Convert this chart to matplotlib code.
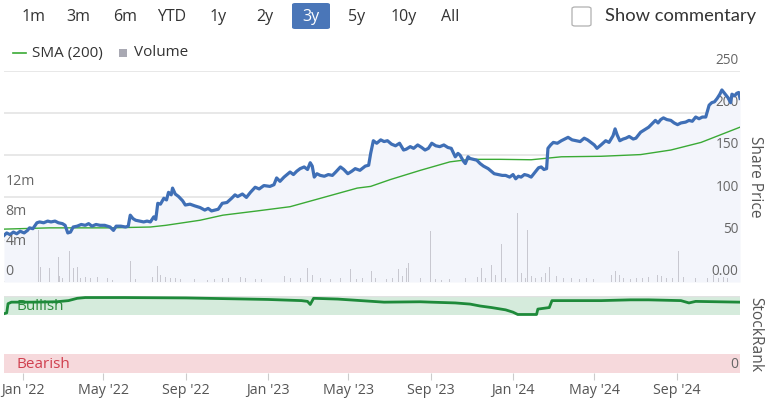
import matplotlib
matplotlib.use('Agg')
import matplotlib.pyplot as plt
from matplotlib.patches import FancyBboxPatch, Rectangle
from matplotlib.lines import Line2D
import pandas as pd

plt.rcParams['font.family'] = ['Open Sans', 'DejaVu Sans']

# --- Data ---
price_dates = [
    '2021-12-04', '2021-12-08', '2021-12-13', '2021-12-18', '2021-12-23', '2021-12-28',
    '2022-01-03', '2022-01-08', '2022-01-11', '2022-01-16', '2022-01-22', '2022-01-26',
    '2022-02-01', '2022-02-07', '2022-02-12', '2022-02-18', '2022-02-23', '2022-03-01',
    '2022-03-05', '2022-03-09', '2022-03-13', '2022-03-17', '2022-03-23', '2022-03-29',
    '2022-04-04', '2022-04-09', '2022-04-14', '2022-04-20', '2022-04-26', '2022-05-03',
    '2022-05-11', '2022-05-16', '2022-05-20', '2022-05-27', '2022-06-03', '2022-06-07',
    '2022-06-10', '2022-06-14', '2022-06-18', '2022-06-24', '2022-06-30', '2022-07-05',
    '2022-07-10', '2022-07-15', '2022-07-18', '2022-07-21', '2022-07-25', '2022-07-30',
    '2022-08-03', '2022-08-06', '2022-08-10', '2022-08-12', '2022-08-16', '2022-08-21',
    '2022-08-27', '2022-08-31', '2022-09-07', '2022-09-14', '2022-09-22', '2022-09-29',
    '2022-10-04', '2022-10-09', '2022-10-14', '2022-10-19', '2022-10-25', '2022-11-01',
    '2022-11-08', '2022-11-13', '2022-11-17', '2022-11-24', '2022-11-30', '2022-12-06',
    '2022-12-13', '2022-12-19', '2022-12-26', '2023-01-04', '2023-01-10', '2023-01-14',
    '2023-01-19', '2023-01-25', '2023-02-03', '2023-02-08', '2023-02-13', '2023-02-18',
    '2023-02-24', '2023-03-01', '2023-03-05', '2023-03-08', '2023-03-11', '2023-03-15',
    '2023-03-20', '2023-03-26', '2023-04-01', '2023-04-07', '2023-04-12', '2023-04-19',
    '2023-04-24', '2023-04-30', '2023-05-06', '2023-05-11', '2023-05-18', '2023-05-26',
    '2023-05-31', '2023-06-03', '2023-06-07', '2023-06-12', '2023-06-18', '2023-06-23',
    '2023-06-28', '2023-07-04', '2023-07-10', '2023-07-16', '2023-07-22', '2023-07-26',
    '2023-08-01', '2023-08-06', '2023-08-12', '2023-08-18', '2023-08-23', '2023-08-28',
    '2023-09-02', '2023-09-08', '2023-09-14', '2023-09-20', '2023-09-26', '2023-10-01',
    '2023-10-07', '2023-10-11', '2023-10-14', '2023-10-19', '2023-10-22', '2023-10-26',
    '2023-10-29', '2023-11-03', '2023-11-08', '2023-11-13', '2023-11-18', '2023-11-25',
    '2023-12-01', '2023-12-04', '2023-12-10', '2023-12-16', '2023-12-21', '2023-12-27',
    '2024-01-01', '2024-01-05', '2024-01-09', '2024-01-13', '2024-01-18', '2024-01-23',
    '2024-01-28', '2024-02-03', '2024-02-08', '2024-02-12', '2024-02-16', '2024-02-20',
    '2024-02-22', '2024-02-26', '2024-03-01', '2024-03-07', '2024-03-13', '2024-03-18',
    '2024-03-23', '2024-03-29', '2024-04-04', '2024-04-10', '2024-04-16', '2024-04-21',
    '2024-04-26', '2024-05-01', '2024-05-05', '2024-05-11', '2024-05-18', '2024-05-23',
    '2024-05-29', '2024-06-01', '2024-06-04', '2024-06-08', '2024-06-13', '2024-06-17',
    '2024-06-22', '2024-06-28', '2024-07-02', '2024-07-09', '2024-07-15', '2024-07-21',
    '2024-07-26', '2024-07-31', '2024-08-04', '2024-08-08', '2024-08-12', '2024-08-17',
    '2024-08-23', '2024-08-28', '2024-09-02', '2024-09-07', '2024-09-14', '2024-09-19',
    '2024-09-24', '2024-09-29', '2024-10-04', '2024-10-09', '2024-10-14', '2024-10-19',
    '2024-10-23', '2024-10-27', '2024-10-31', '2024-11-04', '2024-11-07', '2024-11-11',
    '2024-11-16', '2024-11-20', '2024-11-22', '2024-11-26', '2024-11-29', '2024-12-02',
    '2024-12-04',
]
price_values = [
    55, 58, 56, 59, 57, 60,
    58, 61, 64, 63, 70, 71,
    70, 72, 71, 72, 70, 69,
    67, 58, 59, 65, 66, 68,
    67, 69, 66, 68, 67, 67,
    65, 61, 66, 66, 65, 66,
    79, 75, 73, 72, 71, 72,
    71, 77, 74, 93, 92, 99,
    97, 106, 103, 111, 104, 101,
    96, 91, 92, 90, 88, 85,
    87, 84, 85, 86, 93, 94,
    99, 103, 101, 104, 100, 106,
    112, 110, 114, 113, 115, 123,
    119, 124, 130, 127, 131, 134,
    136, 133, 141, 137, 124, 128,
    126, 125, 127, 126, 130, 136,
    133, 128, 131, 134, 132, 137,
    138, 152, 167, 164, 168, 166,
    167, 163, 161, 164, 156, 157,
    160, 158, 162, 159, 156, 158,
    164, 161, 160, 162, 159, 158,
    148, 152, 150, 143, 140, 148,
    146, 145, 144, 140, 137, 134,
    130, 128, 127, 126, 126, 124,
    127, 122, 125, 124, 127, 126,
    124, 130, 135, 136, 133, 134,
    158, 162, 165, 164, 167, 169,
    171, 168, 167, 166, 170, 168,
    165, 162, 158, 162, 167, 165,
    173, 181, 174, 167, 169, 170,
    172, 169, 170, 177, 180, 183,
    187, 191, 188, 192, 194, 192,
    191, 188, 186, 188, 189, 191,
    190, 195, 193, 195, 195, 209,
    212, 213, 217, 222, 227, 223,
    218, 212, 222, 220, 223, 224,
    217,
]

sma_dates = [
    '2021-12-04', '2022-02-10', '2022-05-11', '2022-07-10', '2022-08-02', '2022-09-22',
    '2022-10-26', '2022-12-16', '2023-02-03', '2023-03-25', '2023-05-14', '2023-06-03',
    '2023-07-02', '2023-08-16', '2023-09-29', '2023-10-29', '2023-12-13', '2024-01-28',
    '2024-03-13', '2024-05-11', '2024-07-09', '2024-08-23', '2024-10-07', '2024-12-04',
]
sma_values = [
    62.5, 64, 64, 65, 67, 73,
    79, 84, 89, 100, 111, 113,
    121, 132, 142, 145, 145, 144.5,
    148, 148.6, 150.6, 156, 165, 183,
]

volume_dates = [
    '2022-01-25', '2022-01-28', '2022-01-31', '2022-02-03', '2022-02-06', '2022-02-10',
    '2022-02-15', '2022-02-18', '2022-02-23', '2022-02-25', '2022-03-01', '2022-03-11',
    '2022-03-17', '2022-03-23', '2022-03-28', '2022-04-04', '2022-04-12', '2022-04-22',
    '2022-05-07', '2022-05-14', '2022-06-10', '2022-06-18', '2022-07-05', '2022-07-13',
    '2022-07-21', '2022-07-25', '2022-08-02', '2022-08-09', '2022-08-17', '2022-08-24',
    '2022-09-01', '2022-09-07', '2022-09-14', '2022-10-03', '2022-10-14', '2022-10-25',
    '2022-11-03', '2022-11-13', '2022-11-21', '2022-11-28', '2022-12-13', '2022-12-23',
    '2023-01-07', '2023-01-26', '2023-02-03', '2023-02-18', '2023-03-01', '2023-03-08',
    '2023-03-20', '2023-04-04', '2023-04-19', '2023-05-04', '2023-05-13', '2023-05-22',
    '2023-06-04', '2023-06-10', '2023-06-17', '2023-06-26', '2023-07-05', '2023-07-14',
    '2023-07-20', '2023-07-26', '2023-07-29', '2023-08-08', '2023-08-16', '2023-08-31',
    '2023-09-08', '2023-09-17', '2023-09-29', '2023-10-11', '2023-10-22', '2023-11-01',
    '2023-11-09', '2023-11-15', '2023-11-21', '2023-11-30', '2023-12-06', '2023-12-15',
    '2023-12-21', '2024-01-01', '2024-01-08', '2024-01-13', '2024-01-19', '2024-01-23',
    '2024-01-29', '2024-02-04', '2024-02-12', '2024-02-19', '2024-02-24', '2024-02-28',
    '2024-03-06', '2024-03-16', '2024-03-28', '2024-04-09', '2024-04-19', '2024-04-30',
    '2024-05-11', '2024-05-20', '2024-05-27', '2024-06-01', '2024-06-07', '2024-06-13',
    '2024-06-24', '2024-07-03', '2024-07-12', '2024-07-21', '2024-07-29', '2024-08-03',
    '2024-08-09', '2024-08-16', '2024-08-25', '2024-09-04', '2024-09-11', '2024-09-19',
    '2024-09-29', '2024-10-07', '2024-10-17', '2024-10-26', '2024-11-02', '2024-11-09',
    '2024-11-16', '2024-11-25',
]
volume_millions = [
    6.9, 2.0, 6.9, 3.6, 1.5, 1.9,
    1.0, 3.7, 3.4, 0.8, 0.6, 4.1,
    1.9, 2.0, 0.6, 0.7, 0.5, 0.7,
    0.5, 0.3, 2.8, 0.4, 0.6, 0.7,
    2.1, 0.9, 0.7, 0.6, 0.5, 0.4,
    2.1, 0.5, 0.4, 0.3, 0.4, 0.5,
    0.6, 2.8, 0.7, 0.5, 0.4, 0.4,
    0.7, 0.8, 0.5, 0.6, 1.9, 0.9,
    0.5, 0.4, 0.6, 1.7, 0.4, 0.5,
    1.5, 0.6, 4.1, 0.4, 0.6, 1.7,
    0.8, 1.9, 2.5, 0.7, 0.5, 6.8,
    0.4, 0.3, 0.4, 0.5, 0.5, 0.6,
    0.7, 1.9, 0.6, 2.3, 0.9, 5.1,
    0.5, 0.4, 9.2, 1.2, 0.6, 6.9,
    0.8, 0.6, 0.7, 1.2, 2.0, 1.0,
    0.8, 0.5, 0.5, 0.4, 0.5, 0.4,
    0.5, 0.7, 0.9, 1.5, 1.0, 0.5,
    0.4, 0.5, 0.6, 0.7, 4.0, 1.0,
    0.8, 0.5, 0.6, 4.1, 0.7, 0.5,
    0.6, 0.4, 0.5, 0.9, 0.6, 0.7,
    0.5, 0.6,
]

rank_dates = [
    '2021-12-04', '2021-12-08', '2021-12-10', '2021-12-15', '2022-01-15', '2022-02-20',
    '2022-03-10', '2022-03-23', '2022-04-04', '2022-06-01', '2022-09-01', '2022-11-01',
    '2023-01-01', '2023-02-20', '2023-03-01', '2023-03-05', '2023-03-10', '2023-04-15',
    '2023-06-23', '2023-08-16', '2023-09-01', '2023-10-07', '2023-10-29', '2023-11-13',
    '2023-11-30', '2023-12-21', '2024-01-01', '2024-01-08', '2024-02-05', '2024-02-07',
    '2024-02-24', '2024-02-28', '2024-04-16', '2024-05-11', '2024-06-24', '2024-07-21',
    '2024-09-07', '2024-09-19', '2024-09-29', '2024-12-04',
]
rank_values = [
    77, 78, 90, 92, 92, 92.5,
    94, 97, 98, 98, 97.5, 96.5,
    95.5, 94, 93, 89, 97, 96,
    92, 92.5, 92, 91, 89.5, 87,
    85, 82, 79, 76, 76, 83,
    85, 94, 94, 94, 95, 95,
    94, 91, 93, 92,
]

range_buttons = ['1m', '3m', '6m', 'YTD', '1y', '2y', '3y', '5y', '10y', 'All']
selected_button = '3y'
price_ticks = [0, 50, 100, 150, 200, 250]
price_tick_labels = ['0.00', '50', '100', '150', '200', '250']
volume_ticks = [0, 4, 8, 12]
volume_tick_labels = ['0', '4m', '8m', '12m']
date_ticks = ['2022-01-01', '2022-05-01', '2022-09-01', '2023-01-01', '2023-05-01',
              '2023-09-01', '2024-01-01', '2024-05-01', '2024-09-01']
date_tick_labels = ["Jan '22", "May '22", "Sep '22", "Jan '23", "May '23",
                    "Sep '23", "Jan '24", "May '24", "Sep '24"]

price_dates = pd.to_datetime(price_dates)
sma_dates = pd.to_datetime(sma_dates)
volume_dates = pd.to_datetime(volume_dates)
rank_dates = pd.to_datetime(rank_dates)
date_ticks = pd.to_datetime(date_ticks)
x_start = pd.Timestamp('2021-12-04')
x_end = pd.Timestamp('2024-12-04')

# --- Figure ---
W, H = 768, 398
fig = plt.figure(figsize=(W / 100, H / 100), dpi=100)

def fx(px):
    return px / W

def fy(py):
    return 1 - py / H

text_col = '#333333'
tick_col = '#666666'

# range selector buttons
btn_x = [34, 78, 125, 172, 218, 265, 311, 357, 404, 450]
for label, bx in zip(range_buttons, btn_x):
    col = text_col
    if label == selected_button:
        fig.patches.append(FancyBboxPatch((fx(bx - 19), fy(29)), fx(38), 26 / H,
                                          boxstyle='round,pad=0,rounding_size=0.004',
                                          transform=fig.transFigure, fc='#4a76b8', ec='none'))
        col = 'white'
    fig.text(fx(bx), fy(17), label, ha='center', va='center', fontsize=11.5, color=col)

# show commentary checkbox
fig.patches.append(FancyBboxPatch((fx(572), fy(26)), fx(19), 19 / H,
                                  boxstyle='round,pad=0,rounding_size=0.004',
                                  transform=fig.transFigure, fc='white', ec='#b0b0b0', lw=0.9))
fig.text(fx(605), fy(16), 'Show commentary', ha='left', va='center', fontsize=13.2,
         color=text_col, family=['Lato', 'DejaVu Sans'])

# legend row
fig.lines.append(Line2D([fx(13), fx(26)], [fy(53), fy(53)], transform=fig.transFigure,
                        color='#3aaa35', lw=1.2))
fig.text(fx(32), fy(53), 'SMA (200)', ha='left', va='center', fontsize=11, color=text_col)
fig.patches.append(Rectangle((fx(119), fy(57)), fx(8), 8 / H, transform=fig.transFigure,
                             fc='#a9a9b3', ec='none'))
fig.text(fx(134), fy(53), 'Volume', ha='left', va='center', fontsize=11, color=text_col)

# --- Price / volume panel ---
ax = fig.add_axes([fx(4), fy(282), fx(736), 211.5 / H])
ax.set_xlim(x_start, x_end)
ax.set_ylim(0, 250)
for t in price_ticks:
    ax.axhline(t, color='#e2e2e2', lw=1.1, zorder=0)
ax.fill_between(price_dates, price_values, 0, color='#f3f5fb', lw=0, zorder=1)
ax.plot(sma_dates, sma_values, color='#3aaa35', lw=1.0, zorder=3)
ax.plot(price_dates, price_values, color='#3f6fb6', lw=2.3, zorder=4,
        solid_joinstyle='round')
for t, lab in zip(price_ticks, price_tick_labels):
    ax.annotate(lab, (1, t), xycoords=('axes fraction', 'data'), xytext=(-1, 2),
                textcoords='offset points', ha='right', va='bottom', fontsize=9.8,
                color=tick_col)
ax.axis('off')

axv = ax.twinx()
axv.set_xlim(x_start, x_end)
axv.set_ylim(0, 28.2)
axv.bar(volume_dates, volume_millions, width=1.3, color='#c8c8d0', zorder=2)
for t, lab in zip(volume_ticks, volume_tick_labels):
    axv.annotate(lab, (0, t), xycoords=('axes fraction', 'data'), xytext=(1, 2),
                 textcoords='offset points', ha='left', va='bottom', fontsize=10.2,
                 color=tick_col)
axv.axis('off')

fig.text(fx(755), fy(177), 'Share Price', rotation=-90, ha='center', va='center',
         fontsize=11.2, color='#555555')

# --- StockRank panel ---
axr = fig.add_axes([fx(4), fy(373), fx(736), 77 / H])
axr.set_xlim(x_start, x_end)
axr.set_ylim(0, 100)
axr.axhspan(75, 100, color='#d5ebdc', lw=0, zorder=0)
axr.axhspan(0, 25, color='#f6d9dc', lw=0, zorder=0)
axr.axhline(100, color='#e2e2e2', lw=1, zorder=0)
axr.plot(rank_dates, rank_values, color='#1e8a3a', lw=2.0, zorder=3)
axr.text(0.017, 87, 'Bullish', transform=axr.get_yaxis_transform(), ha='left',
         va='center', fontsize=11, color='#2e8b3e', zorder=2)
axr.text(0.017, 11, 'Bearish', transform=axr.get_yaxis_transform(), ha='left',
         va='center', fontsize=11, color='#d0404f')
axr.text(0.997, 11, '0', transform=axr.get_yaxis_transform(), ha='right',
         va='center', fontsize=10, color=tick_col)
for s in axr.spines.values():
    s.set_visible(False)
axr.set_yticks([])
axr.set_xticks(date_ticks)
axr.set_xticklabels(date_tick_labels)
axr.tick_params(axis='x', length=5, color='#cccccc', pad=2, labelsize=10.3,
                labelcolor='#555555')
axr.patch.set_alpha(0)

fig.text(fx(755), fy(335), 'StockRank', rotation=-90, ha='center', va='center',
         fontsize=11.2, color='#555555')

fig.savefig('out.png', dpi=100)
